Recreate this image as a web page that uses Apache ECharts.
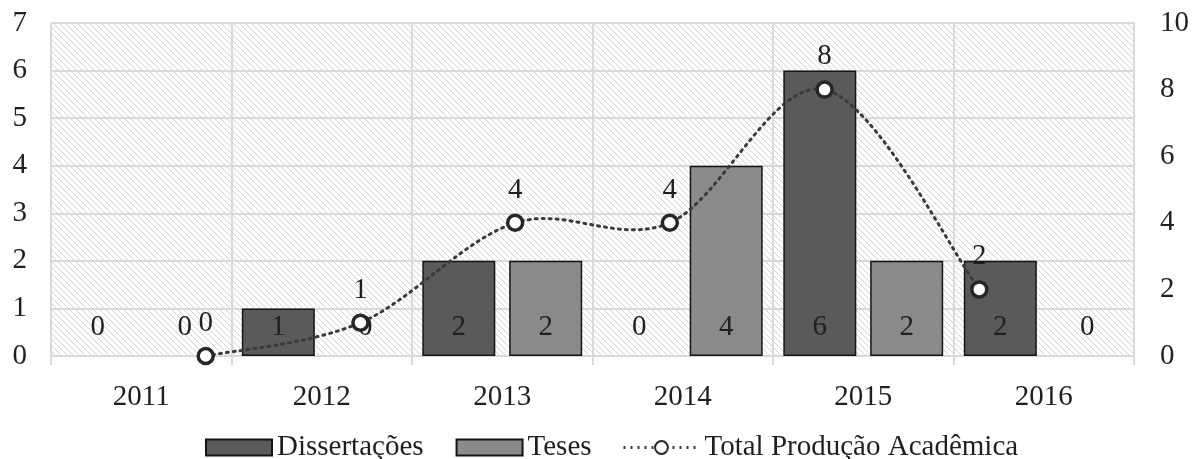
<!DOCTYPE html>
<html>
<head>
<meta charset="utf-8">
<script src="https://cdn.jsdelivr.net/npm/echarts@6/dist/echarts.min.js"></script>
<style>
html,body{margin:0;padding:0;background:#fff;}
#chart{width:1192px;height:459px;}
</style>
</head>
<body>
<div id="chart"></div>
<script>
// ---- data ----
const years = ['2011', '2012', '2013', '2014', '2015', '2016'];
const dissertacoes = [0, 1, 2, 0, 6, 2];
const teses = [0, 0, 2, 4, 2, 0];
const totalProducao = [0, 1, 4, 4, 8, 2];
const leftTicks = [0, 1, 2, 3, 4, 5, 6, 7];
const rightTicks = [0, 2, 4, 6, 8, 10];

// hatch pattern for the plot background
function makeHatch() {
  const s = 6;
  const c = document.createElement('canvas');
  c.width = s; c.height = s;
  const g = c.getContext('2d');
  g.fillStyle = '#ffffff';
  g.fillRect(0, 0, s, s);
  g.strokeStyle = '#d4d4d4';
  g.lineWidth = 1;
  g.beginPath();
  g.moveTo(-1, -1); g.lineTo(s + 1, s + 1);
  g.moveTo(-1, s - 1); g.lineTo(1, s + 1);
  g.moveTo(s - 1, -1); g.lineTo(s + 1, 1);
  g.stroke();
  return c;
}

const FONT = 'Liberation Serif';
const TXT = '#1f1f1f';
const GRIDC = '#d9d9d9';
const LINEC = '#3a3a3a';
const DOTS = [2, 5];

const chart = echarts.init(document.getElementById('chart'), null, { renderer: 'canvas' });

const lineData = totalProducao.map((v, i) => [i, v]);
const barItems = (arr, color) => arr.map(v => ({
  value: v,
  itemStyle: { color: color, borderColor: '#141414', borderWidth: v === 0 ? 0 : 1.5 }
}));

// smooth (Catmull-Rom style) curve through the line points, via the axis scales
function renderCurve(params, api) {
  if (params.dataIndex !== 0) return null;
  const pts = lineData.map(d => api.coord(d));
  const n = pts.length;
  let d = 'M' + pts[0][0] + ',' + pts[0][1];
  const k = 1 / 6;
  for (let i = 0; i < n - 1; i++) {
    const p0 = pts[Math.max(i - 1, 0)];
    const p1 = pts[i];
    const p2 = pts[i + 1];
    const p3 = pts[Math.min(i + 2, n - 1)];
    const c1x = p1[0] + (p2[0] - p0[0]) * k;
    const c1y = p1[1] + (p2[1] - p0[1]) * k;
    const c2x = p2[0] - (p3[0] - p1[0]) * k;
    const c2y = p2[1] - (p3[1] - p1[1]) * k;
    d += ' C' + c1x + ',' + c1y + ' ' + c2x + ',' + c2y + ' ' + p2[0] + ',' + p2[1];
  }
  return {
    type: 'path',
    shape: { pathData: d },
    style: { fill: null, stroke: LINEC, lineWidth: 3, lineDash: DOTS, lineCap: 'round' }
  };
}

chart.setOption({
  animation: false,
  backgroundColor: '#ffffff',
  textStyle: { fontFamily: FONT, color: TXT },
  grid: {
    left: 51, right: 54, top: 23, bottom: 103,
    show: true,
    borderWidth: 0,
    backgroundColor: { image: makeHatch(), repeat: 'repeat' }
  },
  legend: [
    {
      data: ['Dissertações', 'Teses'],
      icon: 'rect',
      left: 205, top: 433, padding: 0,
      itemWidth: 66, itemHeight: 16, itemGap: 32,
      textStyle: { fontFamily: FONT, fontSize: 29, color: TXT }
    },
    {
      data: ['Total Produção Acadêmica'],
      left: 622, top: 433, padding: 0,
      itemWidth: 76, itemHeight: 16,
      lineStyle: { color: LINEC, width: 3, type: DOTS, opacity: 1 },
      textStyle: { fontFamily: FONT, fontSize: 29, color: TXT }
    }
  ],
  xAxis: [
    {
      type: 'category',
      data: years,
      boundaryGap: true,
      axisLine: { show: true, lineStyle: { color: GRIDC, width: 2 } },
      axisTick: { show: true, length: 9, lineStyle: { color: GRIDC, width: 2 } },
      axisLabel: { fontFamily: FONT, fontSize: 29, color: TXT, margin: 27 },
      splitLine: { show: true, lineStyle: { color: GRIDC, width: 2 } }
    },
    {
      type: 'value',
      min: -1, max: 6,
      show: false
    }
  ],
  yAxis: [
    {
      type: 'value',
      min: leftTicks[0], max: leftTicks[leftTicks.length - 1], interval: 1,
      axisLine: { show: false },
      axisTick: { show: false },
      axisLabel: { fontFamily: FONT, fontSize: 29, color: TXT, margin: 24 },
      splitLine: { show: true, lineStyle: { color: GRIDC, width: 2 } }
    },
    {
      type: 'value',
      min: rightTicks[0], max: rightTicks[rightTicks.length - 1], interval: 2,
      position: 'right',
      axisLine: { show: false },
      axisTick: { show: false },
      axisLabel: { fontFamily: FONT, fontSize: 29, color: TXT, margin: 26 },
      splitLine: { show: false }
    }
  ],
  series: [
    {
      name: 'Dissertações',
      type: 'bar',
      data: barItems(dissertacoes, '#5a5a5a'),
      barWidth: 73,
      barGap: '19%',
      itemStyle: { color: '#5a5a5a', borderColor: '#141414', borderWidth: 1.5 },
      label: {
        show: true, position: 'insideBottom', distance: 14,
        fontFamily: FONT, fontSize: 29, color: TXT
      },
      z: 2
    },
    {
      name: 'Teses',
      type: 'bar',
      data: barItems(teses, '#8a8a8a'),
      barWidth: 73,
      barGap: '19%',
      itemStyle: { color: '#8a8a8a', borderColor: '#141414', borderWidth: 1.5 },
      label: {
        show: true, position: 'insideBottom', distance: 14,
        fontFamily: FONT, fontSize: 29, color: TXT
      },
      z: 2
    },
    {
      name: 'curve',
      type: 'custom',
      xAxisIndex: 1,
      yAxisIndex: 1,
      data: lineData,
      renderItem: renderCurve,
      silent: true,
      z: 4
    },
    {
      name: 'Total Produção Acadêmica',
      type: 'line',
      xAxisIndex: 1,
      yAxisIndex: 1,
      data: lineData,
      symbol: 'circle',
      symbolSize: 15,
      lineStyle: { color: LINEC, width: 3, type: DOTS, opacity: 0 },
      itemStyle: { color: '#ffffff', borderColor: '#262626', borderWidth: 3.5 },
      label: {
        show: true, position: 'top', distance: 9,
        fontFamily: FONT, fontSize: 29, color: TXT,
        formatter: p => p.value[1]
      },
      z: 5
    }
  ]
});
</script>
</body>
</html>
